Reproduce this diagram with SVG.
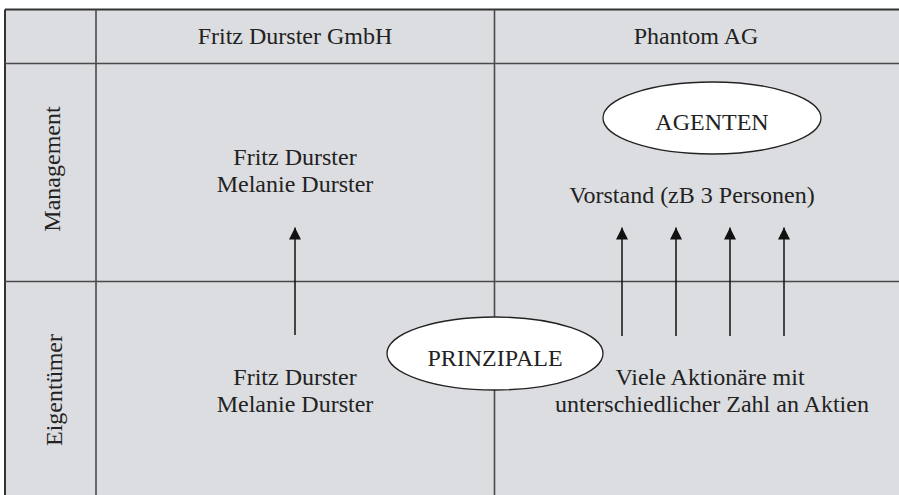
<svg xmlns="http://www.w3.org/2000/svg" width="899" height="495" viewBox="0 0 899 495">
<style>
.t{font-family:"Liberation Serif","Times New Roman",serif;font-size:24px;fill:#222;text-anchor:middle}
.grid{stroke:#4a4a4a;stroke-width:1.6;fill:none}
.border{stroke:#333;stroke-width:2;fill:none}
.conn{stroke:#111;stroke-width:1.5;fill:none}
.ell{fill:#fff;stroke:#222;stroke-width:1.3}
</style>
<defs>
<marker id="ah" markerWidth="12" markerHeight="12" viewBox="0 0 12 12" refX="12" refY="6" orient="auto" markerUnits="userSpaceOnUse">
<path d="M0,0 L12,6 L0,12 Z" fill="#111"/>
</marker>
</defs>
<rect x="0" y="0" width="899" height="495" fill="#fff"/>
<rect x="5" y="9.5" width="894" height="486" fill="#dcdde0"/>
<g id="grid">
<line class="border" x1="5" y1="9.5" x2="899" y2="9.5"/>
<line class="border" x1="5" y1="9.5" x2="5" y2="495"/>
<line class="grid" x1="5" y1="63.5" x2="899" y2="63.5"/>
<line class="grid" x1="5" y1="281.5" x2="899" y2="281.5"/>
<line class="grid" x1="96" y1="9.5" x2="96" y2="495"/>
<line class="grid" x1="494.5" y1="9.5" x2="494.5" y2="495"/>
</g>
<g id="headers">
<text class="t" x="295" y="44">Fritz Durster GmbH</text>
<text class="t" x="696" y="44">Phantom AG</text>
<text class="t" transform="translate(60,169) rotate(-90)">Management</text>
<text class="t" transform="translate(61.5,390) rotate(-90)">Eigentümer</text>
</g>
<g id="connectors">
<line class="conn" x1="295" y1="335" x2="295" y2="227.5" marker-end="url(#ah)"/>
<line class="conn" x1="622" y1="336" x2="622" y2="227.5" marker-end="url(#ah)"/>
<line class="conn" x1="676" y1="336" x2="676" y2="227.5" marker-end="url(#ah)"/>
<line class="conn" x1="730" y1="336" x2="730" y2="227.5" marker-end="url(#ah)"/>
<line class="conn" x1="784" y1="336" x2="784" y2="227.5" marker-end="url(#ah)"/>
</g>
<g id="fd-management">
<text class="t" x="295" y="165">Fritz Durster</text>
<text class="t" x="295" y="192">Melanie Durster</text>
</g>
<g id="fd-owners">
<text class="t" x="295" y="385">Fritz Durster</text>
<text class="t" x="295" y="412">Melanie Durster</text>
</g>
<g id="agenten">
<ellipse class="ell" cx="712" cy="118" rx="109" ry="36"/>
<text class="t" x="712" y="130">AGENTEN</text>
</g>
<g id="vorstand">
<text class="t" x="692" y="203">Vorstand (zB 3 Personen)</text>
</g>
<g id="prinzipale">
<ellipse class="ell" cx="495" cy="353.5" rx="108" ry="36.5"/>
<text class="t" x="495" y="366">PRINZIPALE</text>
</g>
<g id="aktionaere">
<text class="t" x="710" y="385">Viele Aktionäre mit</text>
<text class="t" x="712" y="412">unterschiedlicher Zahl an Aktien</text>
</g>
</svg>
